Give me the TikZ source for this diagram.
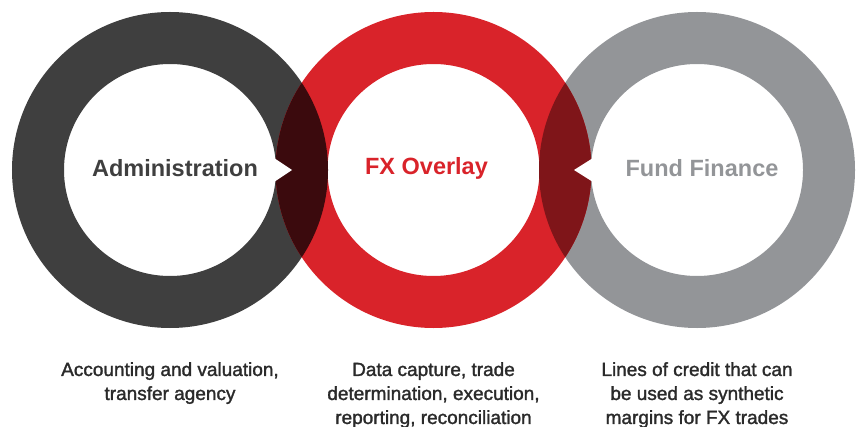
\documentclass[tikz,border=0pt]{standalone}
\usepackage{fontspec}
\setmainfont{Liberation Sans}
\newfontfamily\notefont{Liberation Sans}[FakeBold=1.6]
\usetikzlibrary{positioning, calc}
\definecolor{admgray}{HTML}{3F3F3F}
\definecolor{fxred}{HTML}{D9232A}
\definecolor{fundgray}{HTML}{939598}
\definecolor{leftlap}{HTML}{3B0A0D}
\definecolor{rightlap}{HTML}{7F1519}
\definecolor{notegray}{HTML}{2A2A2A}
\begin{document}
\begin{tikzpicture}[x=1pt,y=1pt,node distance=34pt,
  ring/.style={circle,line width=52pt,minimum size=264pt,inner sep=0pt},
  ringtitle/.style={font=\fontsize{23.5}{28}\selectfont\bfseries},
  note/.style={font=\notefont\fontsize{19}{24}\selectfont,text=notegray,align=center,inner sep=0pt}]
  \useasboundingbox (0,0) rectangle (856,426);
  \node[ring,draw=admgray](adm) at (170,256){};
  \node[ring,draw=fundgray](fund) at (697,256){};
  \node[ring,draw=fxred](fx) at (433.5,256){};
  \begin{scope}\clip (adm.center) circle (158);\fill[leftlap](fx.center) circle (158);\end{scope}
  \begin{scope}\clip (fund.center) circle (158);\fill[rightlap](fx.center) circle (158);\end{scope}
  \fill[white]($(adm.center)+(104,12)$)--($(adm.center)+(122,0)$)--($(adm.center)+(104,-12)$)--cycle;
  \fill[white]($(fund.center)+(-104,12)$)--($(fund.center)+(-123,0)$)--($(fund.center)+(-104,-12)$)--cycle;
  \node[ringtitle,text=admgray](admt) at ($(adm.center)+(5,2)$){Administration};
  \node[ringtitle,text=fxred](fxt) at ($(fx.center)+(-7,2)$){FX Overlay};
  \node[ringtitle,text=fundgray](fundt) at ($(fund.center)+(5,2)$){Fund Finance};
  \node[note,below=of adm](admn){Accounting and valuation,\\transfer agency};
  \node[note,below=of fx](fxn){Data capture, trade\\determination, execution,\\reporting, reconciliation};
  \node[note,below=of fund](fundn){Lines of credit that can\\be used as synthetic\\margins for FX trades};
\end{tikzpicture}
\end{document}
